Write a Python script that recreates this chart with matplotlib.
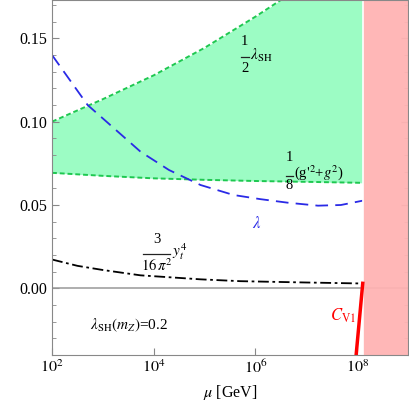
import numpy as np
import matplotlib
matplotlib.use("Agg")
import matplotlib.pyplot as plt
from matplotlib.ticker import MultipleLocator, NullLocator, FormatStrFormatter

plt.rcParams['font.family'] = ['Liberation Serif', 'DejaVu Serif']
plt.rcParams['mathtext.fontset'] = 'stix'

# --- data (log10 mu, value) ---
upper_logmu = [2.0, 3.0, 4.0, 5.0, 6.0, 7.0, 8.11]
upper_val = [0.100, 0.1135, 0.1278, 0.1443, 0.163, 0.183, 0.205]   # 1/2 lambda_SH

lower_logmu = [2.0, 3.0, 4.0, 5.0, 6.0, 7.0, 8.11]
lower_val = [0.0693, 0.0675, 0.0660, 0.0651, 0.0644, 0.0639, 0.0633]  # 1/8 (g'^2+g^2)

lam_logmu = [2.0, 2.7, 3.74, 4.3, 4.92, 5.57, 6.1, 6.63, 7.23, 7.68, 8.11]
lam_val = [0.140, 0.110, 0.082, 0.071, 0.062, 0.056, 0.0535, 0.0514, 0.0496, 0.0500, 0.0526]

yt_logmu = [2.0, 2.5, 3.0, 3.74, 4.92, 5.7, 7.0, 8.11]
yt_val = [0.0173, 0.0135, 0.0110, 0.0078, 0.0054, 0.0043, 0.0035, 0.0029]

cv1_logmu = [8.11, 7.98]
cv1_val = [0.003, -0.04]

cutoff = 10**8.11
xmin, xmax = 1e2, 1e9

fig = plt.figure(figsize=(4.09, 4.01), dpi=100)
ax = fig.add_axes([52/409, 1-355/401, 356/409, 355/401])

ax.set_xscale('log')
ax.set_xlim(xmin, xmax)
ax.set_ylim(-0.04, 0.173)

mu_u = 10**np.array(upper_logmu)
mu_l = 10**np.array(lower_logmu)
ax.fill_between(mu_u, lower_val, upper_val, color='#9cfcc4', lw=0, zorder=1)
ax.plot(mu_u, upper_val, color='#1ec850', ls=(0, (2.5, 1.5)), lw=1.4, zorder=3)
ax.plot(mu_l, lower_val, color='#1ec850', ls=(0, (2.5, 1.5)), lw=1.4, zorder=3)

ax.plot(10**np.array(lam_logmu), lam_val, color='#2a2ae6', ls=(0, (7, 4)), lw=1.3, zorder=4)
ax.plot(10**np.array(yt_logmu), yt_val, color='black', ls=(0, (6, 2, 1.5, 2)), lw=1.3, zorder=4)

ax.axhline(0, color='#999999', lw=1.1, zorder=2)
ax.axvspan(cutoff, xmax, color='#ffb3b3', lw=0, zorder=5, alpha=0.95)
ax.axvline(cutoff, color='white', lw=1.2, zorder=5)
ax.plot(10**np.array(cv1_logmu), cv1_val, color='red', lw=2.5, zorder=6)


def frac(x0, x1, ybar, ynum, yden, num, den, size=10.5):
    # stacked fraction: numerator, bar, denominator (x in log10 mu)
    xc = 10**((x0 + x1) / 2)
    ax.text(xc, ynum, num, fontsize=size, ha='center', va='center', zorder=7)
    ax.text(xc, yden, den, fontsize=size, ha='center', va='center', zorder=7)
    ax.plot([10**x0, 10**x1], [ybar, ybar], color='#222222', lw=0.9, zorder=7)


# labels
frac(5.71, 5.87, 0.1387, 0.1479, 0.1321, '1', '2')
ax.text(10**5.90, 0.1369, r'$\lambda_{\rm SH}$', fontsize=11, ha='left', va='baseline')

frac(6.60, 6.74, 0.0675, 0.0783, 0.0616, '1', '8')
ax.text(10**6.75, 0.0667, r"(g$'^{2}$+$g^{2}$)", fontsize=10.5, ha='left', va='baseline')

frac(3.78, 4.33, 0.0209, 0.0293, 0.0137, '3', r'$16\,\pi^{2}$')
ax.text(10**4.35, 0.0195, r'$y_t^{4}$', fontsize=11, ha='left', va='baseline')

ax.text(10**6.03, 0.0385, r'$\lambda$', color='#2a2ae6', fontsize=12, ha='center', va='center')
ax.text(10**2.75, -0.0221, r'$\lambda_{\rm SH}(m_Z)$=0.2', fontsize=11, ha='left', va='center')
ax.text(10**7.47, -0.0167, r'$C_{\rm V1}$', color='red', fontsize=12, ha='left', va='center', zorder=7)

ax.set_xticks([1e2, 1e4, 1e6, 1e8])
ax.set_xticklabels([r'$10^{2}$', r'$10^{4}$', r'$10^{6}$', r'$10^{8}$'])
ax.xaxis.set_minor_locator(NullLocator())
ax.yaxis.set_major_locator(MultipleLocator(0.05))
ax.yaxis.set_minor_locator(MultipleLocator(0.01))
ax.yaxis.set_major_formatter(FormatStrFormatter('%.2f'))
ax.tick_params(which='both', direction='in', right=True, color='#888888', labelsize=11.5)
ax.tick_params(which='major', length=5)
ax.tick_params(which='minor', length=3)
for s in ax.spines.values():
    s.set_color('#888888')
    s.set_zorder(8)
ax.set_xlabel(r'$\mu$ [GeV]', fontsize=11.5, labelpad=4)

fig.savefig('out.png', dpi=100)
